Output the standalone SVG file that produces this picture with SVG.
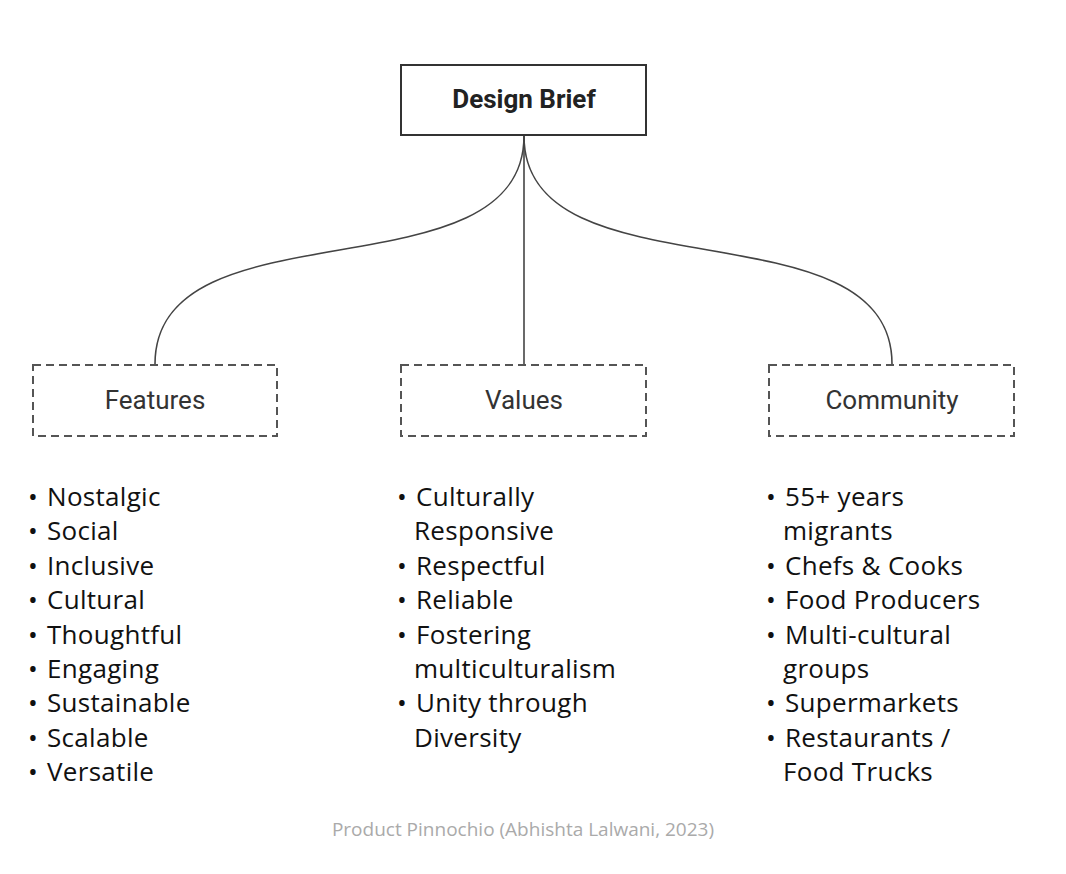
<svg xmlns="http://www.w3.org/2000/svg" width="1066" height="874" viewBox="0 0 1066 874">
<style>
.bg{fill:#fff}
.root{fill:#fff;stroke:#333;stroke-width:2}
.cat{fill:#fff;stroke:#555;stroke-width:2;stroke-dasharray:8 5}
.title{font-family:Roboto,"Liberation Sans",sans-serif;font-weight:bold;font-size:26px;fill:#222;text-anchor:middle}
.label{font-family:Roboto,"Liberation Sans",sans-serif;font-size:26px;fill:#333;text-anchor:middle}
.item{font-family:"Open Sans","Liberation Sans",sans-serif;font-size:26px;letter-spacing:0.3px;fill:#111}
.b{font-size:26px}
.cap{font-family:"Open Sans","Liberation Sans",sans-serif;font-size:19px;fill:#aaa;text-anchor:middle}
.link{fill:none;stroke:#444;stroke-width:1.6}
</style>
<rect class="bg" x="0" y="0" width="1066" height="874"/>
<g id="connectors">
<path class="link" d="M524,136 C524,300 155,200 155,364"/>
<path class="link" d="M524,136 L524,364"/>
<path class="link" d="M524,136 C524,300 892,200 892,364"/>
</g>
<g id="design-brief">
<rect class="root" x="401" y="65" width="245" height="70"/>
<text class="title" x="524" y="108">Design Brief</text>
</g>
<g id="features">
<rect class="cat" x="33" y="365" width="244" height="71"/>
<text class="label" x="155" y="409">Features</text>
</g>
<g id="values">
<rect class="cat" x="401" y="365" width="245" height="71"/>
<text class="label" x="524" y="409">Values</text>
</g>
<g id="community">
<rect class="cat" x="769" y="365" width="245" height="71"/>
<text class="label" x="892" y="409">Community</text>
</g>
<g id="features-list" class="item">
<text x="28" y="506"><tspan class="b">•</tspan><tspan x="47">Nostalgic</tspan></text>
<text x="28" y="540"><tspan class="b">•</tspan><tspan x="47">Social</tspan></text>
<text x="28" y="575"><tspan class="b">•</tspan><tspan x="47">Inclusive</tspan></text>
<text x="28" y="609"><tspan class="b">•</tspan><tspan x="47">Cultural</tspan></text>
<text x="28" y="644"><tspan class="b">•</tspan><tspan x="47">Thoughtful</tspan></text>
<text x="28" y="678"><tspan class="b">•</tspan><tspan x="47">Engaging</tspan></text>
<text x="28" y="712"><tspan class="b">•</tspan><tspan x="47">Sustainable</tspan></text>
<text x="28" y="747"><tspan class="b">•</tspan><tspan x="47">Scalable</tspan></text>
<text x="28" y="781"><tspan class="b">•</tspan><tspan x="47">Versatile</tspan></text>
</g>
<g id="values-list" class="item">
<text x="397" y="506"><tspan class="b">•</tspan><tspan x="416">Culturally</tspan></text>
<text x="414" y="540">Responsive</text>
<text x="397" y="575"><tspan class="b">•</tspan><tspan x="416">Respectful</tspan></text>
<text x="397" y="609"><tspan class="b">•</tspan><tspan x="416">Reliable</tspan></text>
<text x="397" y="644"><tspan class="b">•</tspan><tspan x="416">Fostering</tspan></text>
<text x="414" y="678">multiculturalism</text>
<text x="397" y="712"><tspan class="b">•</tspan><tspan x="416">Unity through</tspan></text>
<text x="414" y="747">Diversity</text>
</g>
<g id="community-list" class="item">
<text x="766" y="506"><tspan class="b">•</tspan><tspan x="785">55+ years</tspan></text>
<text x="783" y="540">migrants</text>
<text x="766" y="575"><tspan class="b">•</tspan><tspan x="785">Chefs &amp; Cooks</tspan></text>
<text x="766" y="609"><tspan class="b">•</tspan><tspan x="785">Food Producers</tspan></text>
<text x="766" y="644"><tspan class="b">•</tspan><tspan x="785">Multi-cultural</tspan></text>
<text x="783" y="678">groups</text>
<text x="766" y="712"><tspan class="b">•</tspan><tspan x="785">Supermarkets</tspan></text>
<text x="766" y="747"><tspan class="b">•</tspan><tspan x="785">Restaurants /</tspan></text>
<text x="783" y="781">Food Trucks</text>
</g>
<text class="cap" x="523" y="836">Product Pinnochio (Abhishta Lalwani, 2023)</text>
</svg>
